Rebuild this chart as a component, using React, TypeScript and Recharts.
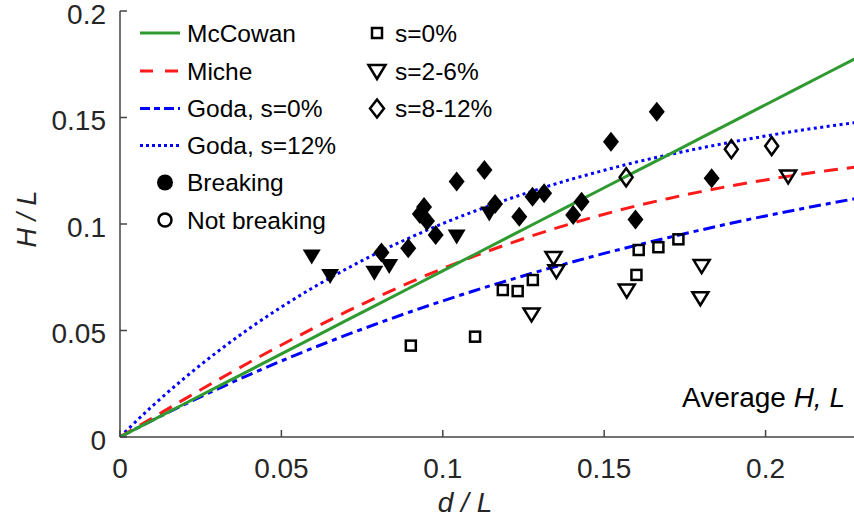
import { ComposedChart, Line, Scatter, XAxis, YAxis } from 'recharts';

// relative depth d/L sampled along the limit curves
const DL_GRID = [0, 0.01, 0.02, 0.03, 0.04, 0.05, 0.06, 0.07, 0.08, 0.09, 0.1, 0.11, 0.12, 0.13, 0.14, 0.15, 0.16, 0.17, 0.18, 0.19, 0.2, 0.21, 0.22, 0.23];
const MCCOWAN = [0, 0.0078, 0.0156, 0.0234, 0.0312, 0.039, 0.0468, 0.0546, 0.0624, 0.0702, 0.078, 0.0858, 0.0936, 0.1014, 0.1092, 0.117, 0.1248, 0.1326, 0.1404, 0.1482, 0.156, 0.1638, 0.1716, 0.1794];
const MICHE = [0, 0.0089, 0.0178, 0.0265, 0.035, 0.0432, 0.0511, 0.0587, 0.0659, 0.0727, 0.0791, 0.085, 0.0905, 0.0956, 0.1003, 0.1046, 0.1085, 0.112, 0.1152, 0.1181, 0.1207, 0.1231, 0.1252, 0.1271];
const GODA_S0 = [0, 0.0078, 0.0153, 0.0224, 0.0292, 0.0357, 0.0419, 0.0478, 0.0534, 0.0588, 0.0639, 0.0688, 0.0734, 0.0779, 0.0821, 0.0862, 0.09, 0.0937, 0.0972, 0.1006, 0.1038, 0.1068, 0.1097, 0.1125];
const GODA_S12 = [0, 0.0145, 0.0277, 0.0398, 0.0509, 0.061, 0.0703, 0.0788, 0.0866, 0.0937, 0.1002, 0.1061, 0.1115, 0.1165, 0.1211, 0.1252, 0.1291, 0.1325, 0.1357, 0.1386, 0.1413, 0.1438, 0.146, 0.148];

// measured points [d/L, H/L]
const BREAK_S2_6: [number, number][] = [
  [0.0594, 0.0845], [0.0651, 0.0753], [0.0788, 0.0769], [0.0834, 0.08], [0.1043, 0.0939], [0.1144, 0.1047],
];
const BREAK_S8_12: [number, number][] = [
  [0.081, 0.0866], [0.0893, 0.0886], [0.0942, 0.108], [0.0929, 0.1047], [0.0951, 0.1014], [0.0978, 0.0948],
  [0.1043, 0.1199], [0.1129, 0.1254], [0.1162, 0.1094], [0.1237, 0.1034], [0.1278, 0.1128], [0.1314, 0.1144],
  [0.1404, 0.1042], [0.143, 0.1105], [0.1521, 0.1386], [0.1597, 0.1021], [0.1663, 0.1527], [0.1833, 0.1215],
];
const NOBREAK_S0: [number, number][] = [
  [0.0901, 0.0429], [0.11, 0.0471], [0.1186, 0.069], [0.1232, 0.0685], [0.1279, 0.0737],
  [0.16, 0.0761], [0.1607, 0.0878], [0.1668, 0.0891], [0.173, 0.0928],
];
const NOBREAK_S2_6: [number, number][] = [
  [0.1275, 0.0573], [0.1343, 0.0838], [0.1352, 0.0776], [0.157, 0.0685], [0.1798, 0.0649], [0.1802, 0.08], [0.207, 0.1221],
];
const NOBREAK_S8_12: [number, number][] = [
  [0.1568, 0.1219], [0.1894, 0.1351], [0.2019, 0.1366],
];

const X_TICKS = [0, 0.05, 0.1, 0.15, 0.2];
const Y_TICKS = [0, 0.05, 0.1, 0.15, 0.2];

const FONT = '"Liberation Sans", Arial, Helvetica, sans-serif';
const FRAME = '#454545';
const TEXT = '#262626';
const GREEN = '#2f9a2f';
const RED = '#ff1a1a';
const BLUE = '#0000ff';

const curve = (ys: number[]) => DL_GRID.map((x, i) => ({ x, y: ys[i] }));
const pts = (arr: [number, number][]) => arr.map(([x, y]) => ({ x, y }));

// marker shapes
const triDown = (cx: number, cy: number, w: number, h: number) =>
  `M${cx - w},${cy - h} L${cx + w},${cy - h} L${cx},${cy + h} Z`;
const diamond = (cx: number, cy: number, w: number, h: number) =>
  `M${cx},${cy - h} L${cx + w},${cy} L${cx},${cy + h} L${cx - w},${cy} Z`;

const FilledTri = (p: any) => <path d={triDown(p.cx, p.cy, 9, 7.5)} fill="#000" />;
const OpenTri = (p: any) => (
  <path d={triDown(p.cx, p.cy, 8, 6.5)} fill="none" stroke="#000" strokeWidth={2.5} strokeLinejoin="miter" />
);
const FilledDiamond = (p: any) => <path d={diamond(p.cx, p.cy, 8, 10)} fill="#000" />;
const OpenDiamond = (p: any) => (
  <path d={diamond(p.cx, p.cy, 6.5, 9)} fill="none" stroke="#000" strokeWidth={2.5} />
);
const OpenSquare = (p: any) => (
  <rect x={p.cx - 5} y={p.cy - 5} width={10} height={10} fill="none" stroke="#000" strokeWidth={2.5} />
);

const BottomTick = (p: any) => (
  <g>
    <line x1={p.x} y1={p.y} x2={p.x} y2={p.y - 7} stroke={FRAME} strokeWidth={1.5} />
    <text x={p.x} y={p.y + 31} textAnchor="middle" dominantBaseline="central" fontFamily={FONT} fontSize={28} fill={TEXT}>
      {p.payload.value}
    </text>
  </g>
);
const TopTick = (p: any) => (
  <line x1={p.x} y1={p.y} x2={p.x} y2={p.y + 7} stroke={FRAME} strokeWidth={1.5} />
);
const LeftTick = (p: any) => (
  <g>
    <line x1={p.x} y1={p.y} x2={p.x + 7} y2={p.y} stroke={FRAME} strokeWidth={1.5} />
    <text x={p.x - 14} y={p.y + 3} textAnchor="end" dominantBaseline="central" fontFamily={FONT} fontSize={28} fill={TEXT}>
      {p.payload.value}
    </text>
  </g>
);

const legendText = { fontFamily: FONT, fontSize: 24.5, fill: '#000', dominantBaseline: 'central' as const };

function LegendBox() {
  const rows = [33, 71, 108.5, 145.5, 182.5, 220];
  return (
    <svg width={854} height={525} style={{ position: 'absolute', left: 0, top: 0, pointerEvents: 'none' }}>
      <line x1={140} x2={180} y1={rows[0]} y2={rows[0]} stroke={GREEN} strokeWidth={3} />
      <text x={187} y={rows[0]} {...legendText}>McCowan</text>
      <line x1={140} x2={180} y1={rows[1]} y2={rows[1]} stroke={RED} strokeWidth={3} strokeDasharray="13 12" />
      <text x={187} y={rows[1]} {...legendText}>Miche</text>
      <line x1={140} x2={180} y1={rows[2]} y2={rows[2]} stroke={BLUE} strokeWidth={3} strokeDasharray="10 4 6 4" />
      <text x={187} y={rows[2]} {...legendText}>Goda, s=0%</text>
      <line x1={140} x2={180} y1={rows[3]} y2={rows[3]} stroke={BLUE} strokeWidth={3} strokeDasharray="3 3" />
      <text x={187} y={rows[3]} {...legendText}>Goda, s=12%</text>
      <circle cx={165} cy={rows[4]} r={8} fill="#000" />
      <text x={187} y={rows[4]} {...legendText}>Breaking</text>
      <circle cx={165} cy={rows[5]} r={6.5} fill="none" stroke="#000" strokeWidth={2.5} />
      <text x={187} y={rows[5]} {...legendText}>Not breaking</text>

      <rect x={372} y={rows[0] - 5} width={10} height={10} fill="none" stroke="#000" strokeWidth={2.5} />
      <text x={395} y={rows[0]} {...legendText}>s=0%</text>
      <path d={triDown(377, rows[1] + 1, 8.5, 7)} fill="none" stroke="#000" strokeWidth={2.5} />
      <text x={395} y={rows[1]} {...legendText}>s=2-6%</text>
      <path d={diamond(377, rows[2], 7, 9)} fill="none" stroke="#000" strokeWidth={2.5} />
      <text x={395} y={rows[2]} {...legendText}>s=8-12%</text>

      <text x={845} y={397} textAnchor="end" dominantBaseline="central" fontFamily={FONT} fontSize={28} fill="#000">
        Average <tspan fontStyle="italic">H, L</tspan>
      </text>
      <text x={465} y={502} textAnchor="middle" dominantBaseline="central" fontFamily={FONT} fontSize={28} fontStyle="italic" fill={TEXT}>
        d / L
      </text>
      <text x={27} y={219} textAnchor="middle" dominantBaseline="central" fontFamily={FONT} fontSize={27} fontStyle="italic" fill={TEXT} transform="rotate(-90 27 219)">
        H / L
      </text>
    </svg>
  );
}

export default function App() {
  return (
    <div style={{ position: 'relative', width: 854, height: 525, background: '#fff' }}>
      <style>{'body{margin:0}'}</style>
      <ComposedChart width={854} height={525} margin={{ top: 11, right: 0, left: 0, bottom: 0 }}>
        <XAxis
          xAxisId="b"
          type="number"
          dataKey="x"
          domain={[0, 0.2274]}
          ticks={X_TICKS}
          allowDataOverflow
          height={88}
          tickSize={0}
          tickMargin={0}
          tickLine={false}
          axisLine={{ stroke: FRAME, strokeWidth: 1.5 }}
          tick={<BottomTick />}
        />
        <XAxis
          xAxisId="t"
          orientation="top"
          type="number"
          domain={[0, 0.2274]}
          ticks={X_TICKS}
          allowDataOverflow
          height={0}
          tickSize={0}
          tickMargin={0}
          tickLine={false}
          axisLine={{ stroke: FRAME, strokeWidth: 1.5 }}
          tick={<TopTick />}
        />
        <YAxis
          yAxisId="l"
          type="number"
          dataKey="y"
          domain={[0, 0.2]}
          ticks={Y_TICKS}
          allowDataOverflow
          width={120}
          tickSize={0}
          tickMargin={0}
          tickLine={false}
          axisLine={{ stroke: FRAME, strokeWidth: 1.5 }}
          tick={<LeftTick />}
        />

        <Line xAxisId="b" yAxisId="l" data={curve(GODA_S12)} dataKey="y" type="monotone" dot={false} stroke={BLUE} strokeWidth={3} strokeDasharray="3 3.5" isAnimationActive={false} />
        <Line xAxisId="b" yAxisId="l" data={curve(GODA_S0)} dataKey="y" type="monotone" dot={false} stroke={BLUE} strokeWidth={3} strokeDasharray="12 5 5 5" isAnimationActive={false} />
        <Line xAxisId="b" yAxisId="l" data={curve(MICHE)} dataKey="y" type="monotone" dot={false} stroke={RED} strokeWidth={3} strokeDasharray="14 9" isAnimationActive={false} />
        <Line xAxisId="b" yAxisId="l" data={curve(MCCOWAN)} dataKey="y" type="linear" dot={false} stroke={GREEN} strokeWidth={3} isAnimationActive={false} />

        <Scatter xAxisId="b" yAxisId="l" data={pts(NOBREAK_S0)} dataKey="y" shape={OpenSquare} isAnimationActive={false} />
        <Scatter xAxisId="b" yAxisId="l" data={pts(NOBREAK_S2_6)} dataKey="y" shape={OpenTri} isAnimationActive={false} />
        <Scatter xAxisId="b" yAxisId="l" data={pts(NOBREAK_S8_12)} dataKey="y" shape={OpenDiamond} isAnimationActive={false} />
        <Scatter xAxisId="b" yAxisId="l" data={pts(BREAK_S2_6)} dataKey="y" shape={FilledTri} isAnimationActive={false} />
        <Scatter xAxisId="b" yAxisId="l" data={pts(BREAK_S8_12)} dataKey="y" shape={FilledDiamond} isAnimationActive={false} />
      </ComposedChart>
      <LegendBox />
    </div>
  );
}
